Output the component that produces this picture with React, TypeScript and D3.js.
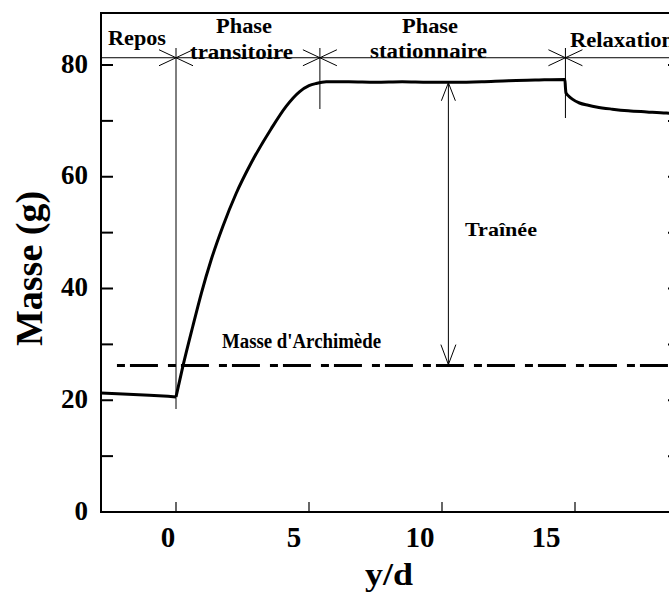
import React from "react";
import * as d3 from "d3";

// ---- data ----
const ydValues = [-2.83, -2.0, -1.0, -0.3, 0, 0.26, 0.63, 0.95, 1.32, 1.76, 2.26, 2.83, 3.58, 4.14, 4.64, 5.0, 5.27, 5.65, 6.5, 7.5, 8.5, 9.5, 10.5, 11.5, 12.5, 13.5, 14.62, 14.64, 14.66, 14.75, 14.9, 15.17, 15.5, 15.8, 16.4, 17.0, 17.7, 18.44, 19.0];
const masseValues = [21.3, 21.1, 20.9, 20.7, 20.6, 26.1, 33.2, 39.1, 45.1, 51.1, 57.0, 62.5, 68.6, 72.6, 75.2, 76.3, 76.7, 77.0, 77.0, 76.9, 77.0, 76.9, 76.9, 77.0, 77.2, 77.3, 77.4, 76.0, 75.0, 74.5, 73.9, 73.2, 72.8, 72.5, 72.1, 71.8, 71.6, 71.4, 71.3];
const archimedeMasse = [26.2];
const archimedeStart = [-2.22];
const phaseBounds = [0, 5.41, 14.64];
const phaseLineValue = [81.3];
const traineeAt = [10.24];
const xTicks = [0, 5, 10, 15];
const yTickLabels = [0, 20, 40, 60, 80];
const yMinorTicks = [10, 20, 30, 40, 50, 60, 70, 80];

const FONT = "'Liberation Serif', 'Times New Roman', serif";

export default function App() {
  const W = 669, H = 592;
  const left = 101, right = 680, top = 13, bottom = 512;
  const x = d3.scaleLinear().domain([0, 15]).range([176, 575]);
  const xLab = d3.scaleLinear().domain([0, 15]).range([168, 546]);
  const y = d3.scaleLinear().domain([0, 80]).range([bottom, 65]);

  const pts = ydValues.map((v, i) => [v, masseValues[i]] as [number, number]);
  const kneeIdx = ydValues.indexOf(0);
  const before = pts.slice(0, kneeIdx + 1);
  const after = pts.slice(kneeIdx);
  const lineLin = d3.line<[number, number]>().x(d => x(d[0])).y(d => y(d[1])).curve(d3.curveLinear);
  const lineSmooth = d3.line<[number, number]>().x(d => x(d[0])).y(d => y(d[1])).curve(d3.curveMonotoneX);

  const yPhase = y(phaseLineValue[0]);
  const aY = y(archimedeMasse[0]);
  const tx = x(traineeAt[0]);
  const plateauY = y(77.0);

  const boundBottoms = [409, 109, 118];

  return (
    <svg width={W} height={H} style={{ position: "absolute", left: 0, top: 0, background: "#fff" }} fontFamily={FONT} fontWeight="bold">
      <defs>
        <clipPath id="plot"><rect x={left} y={top} width={W - left} height={bottom - top} /></clipPath>
      </defs>
      <rect x={0} y={0} width={W} height={H} fill="#fff" />

      {/* frame */}
      <line x1={left} y1={top} x2={left} y2={bottom} stroke="#000" strokeWidth={2} />
      <line x1={left - 1} y1={bottom} x2={W} y2={bottom} stroke="#000" strokeWidth={2} />
      <line x1={left - 1} y1={top} x2={W} y2={top} stroke="#000" strokeWidth={2} />
      <line x1={right} y1={top} x2={right} y2={bottom} stroke="#000" strokeWidth={2} />

      {/* y ticks */}
      {yMinorTicks.map(t => (
        <g key={"yt" + t}>
          <line x1={left} x2={left + 12} y1={y(t)} y2={y(t)} stroke="#000" strokeWidth={2} />
          <line x1={right - 12} x2={right} y1={y(t)} y2={y(t)} stroke="#000" strokeWidth={2} />
        </g>
      ))}
      {yTickLabels.map(t => (
        <text key={"yl" + t} x={88} y={y(t) + 7.5} textAnchor="end" fontSize={27}>{t}</text>
      ))}

      {/* x ticks */}
      {xTicks.map(t => (
        <g key={"xt" + t}>
          <line x1={x(t)} x2={x(t)} y1={bottom} y2={bottom - 10} stroke="#000" strokeWidth={1.2} />
          <text x={xLab(t)} y={546.5} textAnchor="middle" fontSize={29}>{t}</text>
        </g>
      ))}

      {/* axis titles */}
      <text x={389} y={585} textAnchor="middle" fontSize={31} textLength={48} lengthAdjust="spacingAndGlyphs">y/d</text>
      <text transform={`translate(42,268.5) rotate(-90)`} textAnchor="middle" fontSize={38}>Masse (g)</text>

      {/* phase line */}
      <line x1={left} x2={W} y1={yPhase} y2={yPhase} stroke="#000" strokeWidth={1} />
      {phaseBounds.map((b, i) => (
        <g key={"pb" + i}>
          <line x1={x(b)} x2={x(b)} y1={48} y2={boundBottoms[i]} stroke="#000" strokeWidth={1} />
          <line x1={x(b) - 17} x2={x(b) + 17} y1={yPhase - 8} y2={yPhase + 8} stroke="#000" strokeWidth={1} />
          <line x1={x(b) - 17} x2={x(b) + 17} y1={yPhase + 8} y2={yPhase - 8} stroke="#000" strokeWidth={1} />
        </g>
      ))}

      {/* phase labels */}
      <text x={108} y={45} fontSize={20} textLength={58} lengthAdjust="spacingAndGlyphs">Repos</text>
      <text x={216} y={33} fontSize={20} textLength={56} lengthAdjust="spacingAndGlyphs">Phase</text>
      <text x={190} y={59} fontSize={20} textLength={103} lengthAdjust="spacingAndGlyphs">transitoire</text>
      <text x={402} y={33} fontSize={20} textLength={56} lengthAdjust="spacingAndGlyphs">Phase</text>
      <text x={370} y={58} fontSize={20} textLength={117} lengthAdjust="spacingAndGlyphs">stationnaire</text>
      <text x={570} y={47} fontSize={20} textLength={104} lengthAdjust="spacingAndGlyphs">Relaxation</text>

      {/* Archimede line */}
      <line x1={x(archimedeStart[0])} x2={W} y1={aY} y2={aY} stroke="#000" strokeWidth={3} strokeDasharray="8,5,28,10" />
      <text x={222} y={348} fontSize={20} textLength={159} lengthAdjust="spacingAndGlyphs">Masse d'Archimède</text>

      {/* Trainee arrow */}
      <line x1={tx} x2={tx} y1={plateauY + 1} y2={aY - 1} stroke="#000" strokeWidth={1} />
      <path d={`M${tx - 7},${plateauY + 19} L${tx},${plateauY + 1} L${tx + 7},${plateauY + 19}`} fill="none" stroke="#000" strokeWidth={1} />
      <path d={`M${tx - 7.5},${aY - 21} L${tx},${aY - 1} L${tx + 7.5},${aY - 21}`} fill="none" stroke="#000" strokeWidth={1} />
      <text x={465} y={236} fontSize={19} textLength={72} lengthAdjust="spacingAndGlyphs">Traînée</text>

      {/* curve */}
      <g clipPath="url(#plot)">
        <path d={lineLin(before) || ""} fill="none" stroke="#000" strokeWidth={3} strokeLinejoin="round" />
        <path d={lineSmooth(after) || ""} fill="none" stroke="#000" strokeWidth={3} strokeLinejoin="round" />
      </g>
    </svg>
  );
}
